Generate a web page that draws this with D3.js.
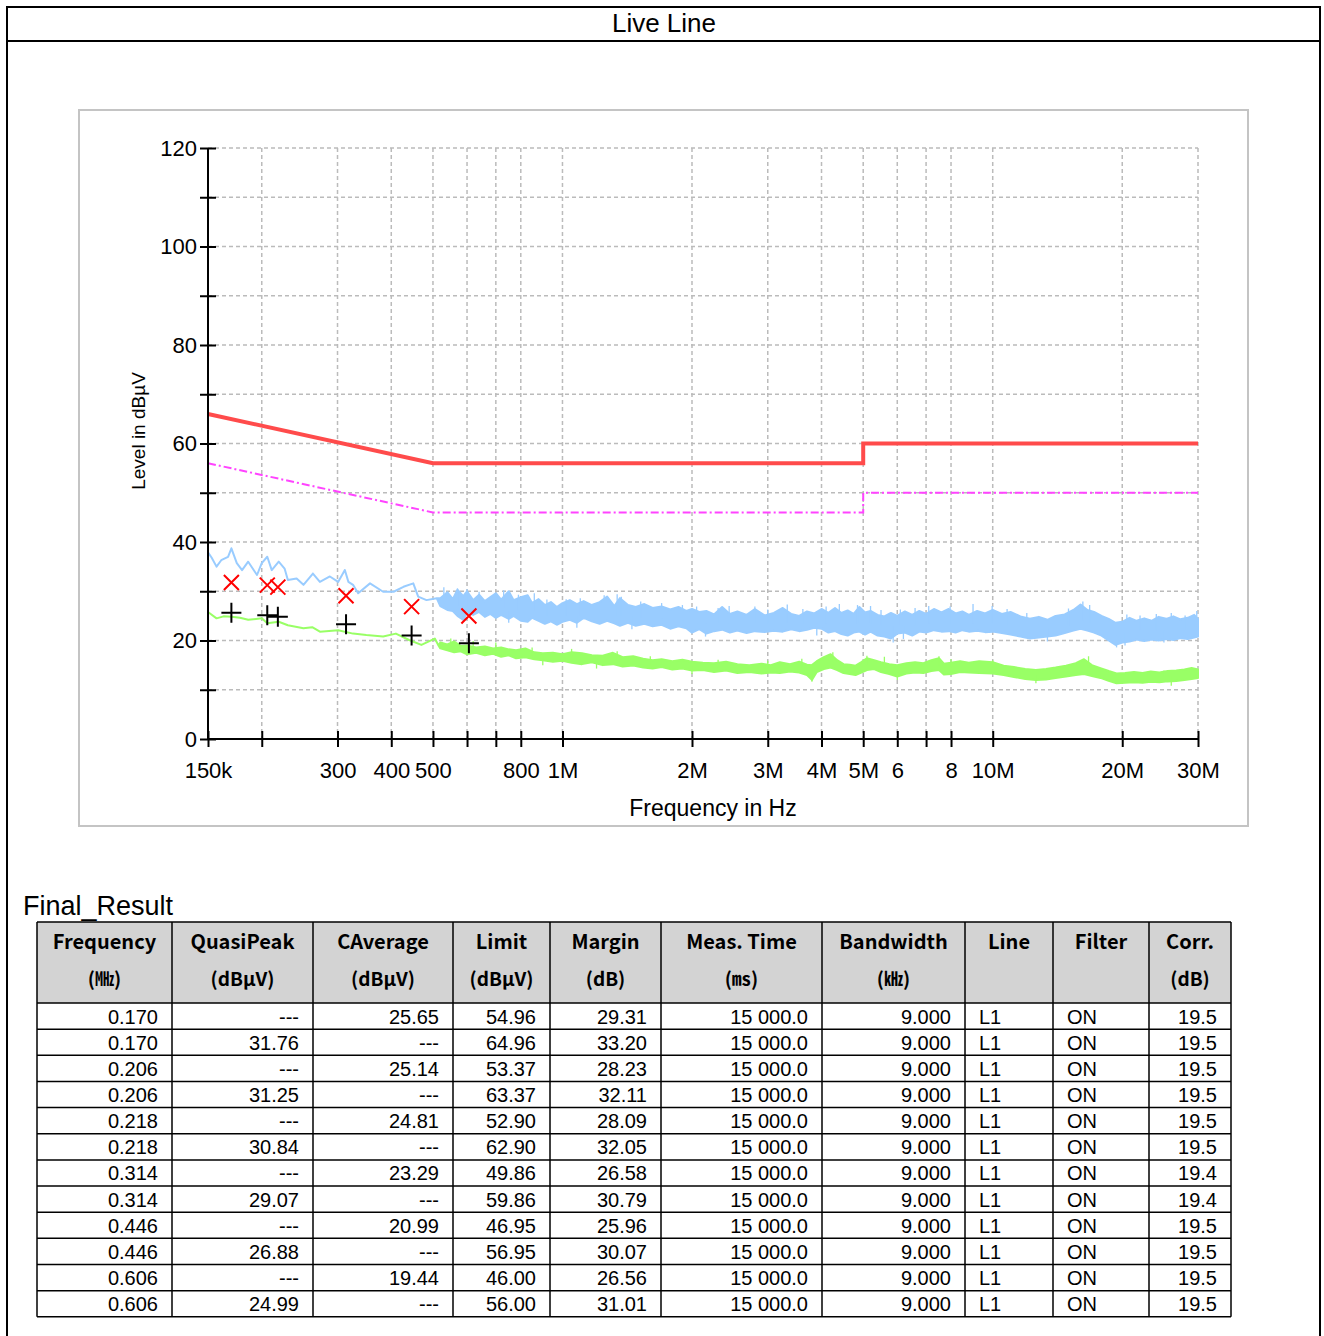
<!DOCTYPE html>
<meta charset="utf-8">
<script src="https://d3js.org/d3.v7.min.js"></script>
<html>
<style>
body { margin: 0; background: #fff; }
text { font-family: "Liberation Sans", Arial, sans-serif; fill: #000; }
.hdr { font-family: "Noto Sans CJK KR", sans-serif; font-weight: bold; }
</style>
<body>
<svg id="chart" width="1324" height="1336"></svg>
<script>

// ---- data ----
var xTickValues = [0.15, 0.2, 0.3, 0.4, 0.5, 0.6, 0.7, 0.8, 1, 2, 3, 4, 5, 6, 7, 8, 10, 20, 30];
var xTickLabels = ["150k", "", "300", "400", "500", "", "", "800", "1M", "2M", "3M", "4M", "5M", "6", "", "8", "10M", "20M", "30M"];
var yTickValues = [0, 10, 20, 30, 40, 50, 60, 70, 80, 90, 100, 110, 120];

// limit lines (MHz, dBuV)
var limitFreq = [0.15, 0.5, 5, 5, 30];
var qpLimit = [66, 56, 56, 60, 60];
var avLimit = [56, 46, 46, 50, 50];

// peak trace: thin part [f, level], noisy part [f, low, high]
var peakLine = [[0.150, 37.9], [0.153, 36.8], [0.157, 35.0], [0.161, 36.3], [0.167, 37.0], [0.170, 38.7],
  [0.175, 35.7], [0.180, 34.3], [0.186, 36.0], [0.195, 33.3], [0.200, 35.7], [0.206, 37.0], [0.211, 34.3],
  [0.219, 36.0], [0.226, 34.6], [0.230, 32.3], [0.241, 32.6], [0.250, 31.3], [0.263, 33.6], [0.273, 31.9],
  [0.288, 33.0], [0.301, 31.9], [0.312, 34.3], [0.318, 31.9], [0.326, 31.3], [0.335, 29.6], [0.357, 31.6],
  [0.383, 29.9], [0.405, 29.9], [0.427, 30.9], [0.450, 31.6], [0.462, 28.9], [0.483, 28.2], [0.510, 28.6]];
var peakBand = [[0.52, 27.0, 28.6], [0.54, 26.2, 29.8], [0.556, 26.0, 28.4], [0.57, 25.0, 30.3], [0.588, 24.2, 29.0],
  [0.60, 25.6, 30.0], [0.62, 25.2, 28.2], [0.64, 25.8, 29.3], [0.66, 24.8, 28.0], [0.68, 25.4, 28.8],
  [0.70, 24.6, 29.6], [0.72, 25.2, 28.3], [0.75, 24.4, 30.0], [0.77, 25.0, 28.2], [0.80, 24.0, 28.8],
  [0.83, 23.8, 29.2], [0.85, 24.6, 27.6], [0.88, 24.0, 28.4], [0.91, 23.4, 27.2], [0.94, 23.9, 27.8],
  [0.97, 23.2, 26.8], [1.00, 23.8, 27.6], [1.04, 24.2, 28.2], [1.08, 23.6, 27.4], [1.12, 24.6, 28.0],
  [1.17, 23.9, 27.2], [1.22, 23.4, 27.8], [1.27, 24.0, 28.9], [1.32, 23.5, 27.0], [1.36, 23.0, 28.6],
  [1.42, 23.6, 27.2], [1.48, 23.0, 26.8], [1.55, 23.4, 27.4], [1.62, 22.9, 26.6], [1.70, 23.2, 26.9],
  [1.78, 22.4, 26.3], [1.86, 22.9, 26.8], [1.94, 22.5, 26.0], [2.00, 21.6, 26.4], [2.08, 22.3, 25.8],
  [2.16, 21.4, 26.0], [2.25, 21.9, 25.3], [2.35, 22.2, 26.8], [2.45, 21.6, 25.4], [2.55, 22.0, 25.9],
  [2.68, 21.5, 25.2], [2.80, 21.9, 26.4], [2.95, 21.7, 25.1], [3.10, 22.0, 25.6], [3.25, 21.8, 26.6],
  [3.40, 22.3, 25.4], [3.55, 21.9, 25.0], [3.70, 22.2, 25.9], [3.85, 22.6, 25.5], [4.00, 22.4, 26.4],
  [4.15, 21.6, 25.6], [4.30, 21.9, 26.6], [4.45, 21.3, 25.6], [4.60, 21.0, 26.1], [4.75, 21.6, 25.4],
  [4.90, 21.8, 26.8], [5.05, 21.2, 25.7], [5.20, 21.8, 26.0], [5.40, 21.0, 25.2], [5.60, 20.8, 24.9],
  [5.80, 20.4, 25.6], [6.00, 21.4, 25.0], [6.25, 21.6, 25.9], [6.50, 21.0, 25.2], [6.75, 21.8, 26.0],
  [7.00, 21.6, 25.4], [7.30, 22.1, 26.4], [7.60, 21.8, 25.7], [7.90, 21.9, 26.4], [8.20, 21.6, 25.5],
  [8.50, 22.1, 25.9], [8.80, 21.8, 25.2], [9.20, 22.0, 26.0], [9.60, 21.7, 25.5], [10.0, 21.8, 26.2],
  [10.5, 21.5, 25.4], [11.0, 21.2, 25.8], [11.6, 20.8, 24.9], [12.2, 20.4, 24.4], [12.8, 20.6, 24.8],
  [13.4, 20.8, 24.2], [14.0, 21.0, 25.0], [14.7, 21.5, 25.3], [15.4, 22.0, 26.2], [16.0, 22.4, 27.3],
  [16.6, 22.0, 26.2], [17.2, 21.6, 25.8], [17.9, 21.0, 25.0], [18.6, 20.0, 24.4], [19.3, 19.1, 23.6],
  [20.0, 19.6, 23.8], [20.8, 19.8, 24.6], [21.6, 20.2, 24.0], [22.5, 19.9, 24.5], [23.4, 20.2, 24.0],
  [24.3, 20.0, 24.8], [25.3, 20.3, 24.4], [26.3, 20.1, 24.9], [27.3, 20.5, 24.3], [28.4, 20.3, 24.6],
  [29.4, 20.6, 25.2], [30.0, 20.8, 24.4]];
// visible single spikes [f, from, to]
var peakSpikes = [[0.53, 27.5, 30.8], [0.57, 27, 30.6], [0.60, 27, 30.4], [0.64, 26.5, 29.9], [0.73, 26.5, 30.2],
  [0.79, 26, 29.3], [0.86, 26, 29.6], [0.92, 25, 28.3], [1.02, 25, 28.4], [1.10, 25, 28.6], [1.25, 25, 29.2],
  [1.34, 25, 29.4], [1.37, 25, 28.9], [1.52, 24.5, 27.9], [1.70, 24.5, 27.6], [1.90, 24, 27.2], [2.05, 23.5, 26.9],
  [2.30, 23.5, 26.6], [2.44, 23.5, 27.0], [2.80, 23.5, 26.9], [3.0, 23.5, 26.3], [3.33, 23.5, 27.3],
  [3.62, 23.5, 26.4], [4.1, 23.5, 26.9], [4.4, 23.5, 27.4], [4.85, 23.5, 27.2], [5.2, 23.5, 27.0],
  [5.5, 23, 26.2], [6.1, 23, 26.3], [6.6, 23, 26.6], [7.1, 23.5, 27.0], [7.96, 23.5, 26.9], [9.0, 23.5, 27.4],
  [9.97, 23.5, 27.0], [10.8, 23, 26.4], [12.0, 22.5, 25.6], [15.0, 23, 26.5], [16.2, 24, 27.9], [16.8, 23.5, 27.2],
  [20.5, 21.5, 25.3], [22.0, 22, 25.1], [24.0, 22, 25.4], [26.0, 22, 25.6], [28.0, 22, 25.1], [29.8, 22, 26.0],
  [0.75, 26, 23.6], [1.08, 25, 22.6], [1.45, 25, 22.3], [2.15, 23.5, 20.8], [3.9, 23.5, 21.0], [5.87, 23, 19.6],
  [6.2, 23, 20.3], [13.4, 22.5, 19.8], [19.4, 21, 18.6], [20.3, 21.5, 19.0], [25.0, 22, 19.6]];

// average trace
var avgLine = [[0.150, 25.8], [0.157, 24.5], [0.163, 24.9], [0.170, 24.8], [0.178, 24.6], [0.186, 24.2],
  [0.200, 24.5], [0.206, 23.5], [0.219, 23.8], [0.230, 23.1], [0.250, 22.5], [0.262, 22.7], [0.273, 21.8],
  [0.301, 22.1], [0.326, 21.4], [0.350, 21.1], [0.383, 20.8], [0.410, 21.4], [0.440, 20.1], [0.470, 19.1],
  [0.505, 20.4], [0.515, 19.0]];
var avgBand = [[0.52, 18.4, 19.6], [0.54, 18.0, 19.2], [0.56, 17.6, 19.8], [0.58, 17.8, 18.9], [0.60, 17.2, 19.0],
  [0.63, 17.5, 18.6], [0.66, 17.0, 18.8], [0.69, 17.3, 18.4], [0.72, 16.7, 18.6], [0.75, 17.0, 18.2],
  [0.78, 16.4, 18.0], [0.82, 16.6, 18.4], [0.86, 16.2, 17.6], [0.90, 16.0, 17.4], [0.95, 15.7, 17.5],
  [1.00, 15.9, 17.2], [1.05, 15.5, 17.6], [1.11, 15.2, 17.4], [1.17, 15.6, 17.0], [1.24, 15.0, 16.9],
  [1.31, 15.2, 17.5], [1.38, 14.7, 16.6], [1.46, 14.9, 16.8], [1.54, 14.5, 16.3], [1.62, 14.3, 16.0],
  [1.70, 14.6, 16.2], [1.80, 14.1, 15.8], [1.90, 14.3, 16.1], [2.00, 13.9, 15.7], [2.12, 14.0, 15.5],
  [2.25, 13.6, 15.4], [2.40, 13.9, 15.7], [2.55, 13.4, 15.2], [2.72, 13.6, 15.0], [2.90, 13.3, 15.3],
  [3.05, 13.5, 15.0], [3.20, 13.4, 15.6], [3.38, 13.7, 15.2], [3.55, 13.5, 15.7], [3.70, 13.0, 15.1],
  [3.80, 12.0, 15.0], [3.90, 13.6, 15.8], [4.05, 14.2, 16.6], [4.20, 14.5, 17.2], [4.35, 14.0, 16.0],
  [4.50, 13.4, 15.2], [4.65, 13.2, 15.1], [4.80, 13.0, 14.9], [4.95, 13.5, 15.6], [5.10, 14.0, 16.4],
  [5.30, 14.2, 16.0], [5.50, 13.6, 15.6], [5.75, 13.2, 15.2], [6.00, 12.7, 15.0], [6.30, 13.3, 15.4],
  [6.60, 13.5, 15.6], [6.90, 13.4, 15.4], [7.20, 13.8, 16.0], [7.50, 14.0, 16.4], [7.70, 13.1, 15.3],
  [8.00, 13.2, 15.5], [8.40, 13.6, 15.8], [8.80, 13.5, 15.5], [9.30, 13.4, 15.8], [10.0, 13.3, 15.6],
  [10.6, 13.0, 14.9], [11.2, 12.6, 14.6], [11.9, 12.2, 14.2], [12.6, 12.0, 14.0], [13.3, 12.1, 14.2],
  [14.0, 12.4, 14.5], [14.8, 12.7, 14.9], [15.6, 13.0, 15.4], [16.3, 13.2, 16.2], [17.0, 12.8, 15.0],
  [17.8, 12.4, 14.4], [18.6, 11.8, 13.8], [19.4, 11.3, 13.3], [20.3, 11.4, 13.4], [21.3, 11.5, 13.6],
  [22.3, 11.4, 13.4], [23.3, 11.6, 13.7], [24.4, 11.5, 13.5], [25.5, 11.7, 13.8], [26.7, 11.8, 13.9],
  [27.9, 12.0, 14.1], [29.0, 12.2, 14.4], [30.0, 12.4, 14.1]];
var avgSpikes = [[0.55, 18.8, 20.4], [0.62, 18, 19.9], [0.70, 17.8, 19.6], [0.85, 17, 18.6], [1.05, 16.5, 18.3],
  [1.34, 16, 17.8], [1.6, 15.2, 16.8], [2.3, 14.5, 16.1], [3.0, 14.2, 15.9], [3.6, 14.5, 16.3], [4.25, 15.5, 17.6],
  [5.1, 15, 16.9], [5.6, 14.5, 16.7], [7.5, 15, 16.8], [8.0, 14.5, 16.2], [10.0, 14.5, 16.0], [16.7, 14.5, 16.8],
  [25, 12.6, 13.9], [0.9, 16.7, 15.0], [1.2, 16.2, 14.3], [2.0, 14.8, 13.2], [3.8, 14, 11.6], [6.0, 14, 12.0],
  [12.6, 13, 11.3], [26.0, 12.8, 10.8]];

// Final_Result table
var resFreq = ["0.170", "0.170", "0.206", "0.206", "0.218", "0.218", "0.314", "0.314", "0.446", "0.446", "0.606", "0.606"];
var resQP = ["---", "31.76", "---", "31.25", "---", "30.84", "---", "29.07", "---", "26.88", "---", "24.99"];
var resCAv = ["25.65", "---", "25.14", "---", "24.81", "---", "23.29", "---", "20.99", "---", "19.44", "---"];
var resLimit = ["54.96", "64.96", "53.37", "63.37", "52.90", "62.90", "49.86", "59.86", "46.95", "56.95", "46.00", "56.00"];
var resMargin = ["29.31", "33.20", "28.23", "32.11", "28.09", "32.05", "26.58", "30.79", "25.96", "30.07", "26.56", "31.01"];
var resTime = "15 000.0";
var resBw = "9.000";
var resLine = "L1";
var resFilter = "ON";
var resCorr = ["19.5", "19.5", "19.5", "19.5", "19.5", "19.5", "19.4", "19.4", "19.5", "19.5", "19.5", "19.5"];
var headNames = ["Frequency", "QuasiPeak", "CAverage", "Limit", "Margin", "Meas. Time", "Bandwidth", "Line", "Filter", "Corr."];
var headUnits = ["(\u3392)", "(dB\u03bcV)", "(dB\u03bcV)", "(dB\u03bcV)", "(dB)", "(\u33b3)", "(\u3391)", "", "", "(dB)"];

// ---- drawing ----
var svg = d3.select("#chart");

// outer frame + title row
svg.append("rect").attr("x", 7).attr("y", 7).attr("width", 1313).attr("height", 1340)
  .attr("fill", "none").attr("stroke", "#000").attr("stroke-width", 2);
svg.append("line").attr("x1", 7).attr("x2", 1320).attr("y1", 41).attr("y2", 41)
  .attr("stroke", "#000").attr("stroke-width", 2);
svg.append("text").attr("x", 664).attr("y", 32).attr("text-anchor", "middle")
  .style("font-size", "26px").text("Live Line");

// chart panel
svg.append("rect").attr("x", 79).attr("y", 110).attr("width", 1169).attr("height", 716)
  .attr("fill", "#fff").attr("stroke", "#c4c4c4").attr("stroke-width", 2);

var x = d3.scaleLog().domain([0.15, 30]).range([208, 1198]);
var y = d3.scaleLinear().domain([0, 120]).range([739, 148]);

// grid
var grid = svg.append("g");
grid.selectAll(".gx").data(xTickValues.slice(1)).enter().append("line")
  .attr("x1", d => x(d)).attr("x2", d => x(d)).attr("y1", y(120)).attr("y2", y(0))
  .attr("stroke", "#bbb").attr("stroke-width", 1.5).attr("stroke-dasharray", "4,3");
grid.selectAll(".gy").data(yTickValues.slice(1)).enter().append("line")
  .attr("x1", x(0.15)).attr("x2", x(30)).attr("y1", d => y(d)).attr("y2", d => y(d))
  .attr("stroke", "#bbb").attr("stroke-width", 1.5).attr("stroke-dasharray", "4,3");

// traces
var band = d3.area().x(d => x(d[0])).y0(d => y(d[1])).y1(d => y(d[2]));
function trace(line, bnd) {
  return line.map(d => [d[0], d[1], d[1]]).concat(bnd);
}
function drawTrace(line, bnd, spikes, col) {
  svg.append("path").datum(trace(line, bnd)).attr("d", band)
    .attr("fill", col).attr("stroke", col).attr("stroke-width", 2).attr("stroke-linejoin", "round");
  svg.append("g").selectAll("line").data(spikes).enter().append("line")
    .attr("x1", d => x(d[0])).attr("x2", d => x(d[0])).attr("y1", d => y(d[1])).attr("y2", d => y(d[2]))
    .attr("stroke", col).attr("stroke-width", 1.3);
}
drawTrace(peakLine, peakBand, peakSpikes, "#99ccff");
drawTrace(avgLine, avgBand, avgSpikes, "#99ff66");

// limits
var limLine = d3.line().x(d => x(d[0])).y(d => y(d[1]));
svg.append("path").datum(limitFreq.map((f, i) => [f, avLimit[i]])).attr("d", limLine)
  .attr("fill", "none").attr("stroke", "#ff44ff").attr("stroke-width", 2).attr("stroke-dasharray", "8,3,2,3");
svg.append("path").datum(limitFreq.map((f, i) => [f, qpLimit[i]])).attr("d", limLine)
  .attr("fill", "none").attr("stroke", "#ff4b4b").attr("stroke-width", 4);

// markers
var qpPts = [], avPts = [];
resFreq.forEach(function (f, i) {
  if (resQP[i] != "---") qpPts.push([+f, +resQP[i]]);
  if (resCAv[i] != "---") avPts.push([+f, +resCAv[i]]);
});
svg.selectAll(".qp").data(qpPts).enter().append("path")
  .attr("d", function (d) {
    var cx = x(d[0]), cy = y(d[1]), r = 7.5;
    return "M" + (cx - r) + "," + (cy - r) + "L" + (cx + r) + "," + (cy + r) +
      "M" + (cx - r) + "," + (cy + r) + "L" + (cx + r) + "," + (cy - r);
  })
  .attr("stroke", "#ff0000").attr("stroke-width", 2).attr("fill", "none");
svg.selectAll(".av").data(avPts).enter().append("path")
  .attr("d", function (d) {
    var cx = x(d[0]), cy = y(d[1]), r = 10;
    return "M" + (cx - r) + "," + cy + "L" + (cx + r) + "," + cy +
      "M" + cx + "," + (cy - r) + "L" + cx + "," + (cy + r);
  })
  .attr("stroke", "#000").attr("stroke-width", 2).attr("fill", "none");

// axes
var xAxis = d3.axisBottom(x).tickValues(xTickValues)
  .tickFormat((d, i) => xTickLabels[i]).tickSize(8).tickPadding(15);
var gx = svg.append("g").attr("transform", "translate(0," + y(0) + ")").call(xAxis);
gx.select(".domain").attr("d", "M" + x(0.15) + ",0H" + x(30)).attr("stroke-width", 2);
gx.selectAll(".tick line").attr("y1", -8).attr("y2", 8).attr("stroke-width", 2);
gx.selectAll(".tick text").style("font-size", "22px").style("font-family", "'Liberation Sans', Arial, sans-serif");

var yAxis = d3.axisLeft(y).tickValues(yTickValues)
  .tickFormat(d => d % 20 == 0 ? d : "").tickSize(8).tickPadding(3);
var gy = svg.append("g").attr("transform", "translate(" + x(0.15) + ",0)").call(yAxis);
gy.select(".domain").attr("d", "M0," + y(0) + "V" + y(120)).attr("stroke-width", 2);
gy.selectAll(".tick line").attr("x1", -8).attr("x2", 8).attr("stroke-width", 2);
gy.selectAll(".tick text").style("font-size", "22px").style("font-family", "'Liberation Sans', Arial, sans-serif");

svg.append("text").attr("x", 713).attr("y", 816).attr("text-anchor", "middle")
  .style("font-size", "23px").text("Frequency in Hz");
svg.append("text").attr("transform", "translate(145,431) rotate(-90)").attr("text-anchor", "middle")
  .style("font-size", "19px").text("Level in dB\u00b5V");

// table
svg.append("text").attr("x", 23).attr("y", 915).style("font-size", "27px").text("Final_Result");

var colX = [37, 172, 313, 453, 550, 661, 822, 965, 1053, 1149, 1231];
var tTop = 922, hBot = 1003, rowH = 26.15;
var nRows = resFreq.length;
var tBot = hBot + rowH * nRows;

svg.append("rect").attr("x", colX[0]).attr("y", tTop).attr("width", colX[10] - colX[0]).attr("height", hBot - tTop)
  .attr("fill", "#d3d3d3");
var tb = svg.append("g").attr("stroke", "#000").attr("stroke-width", 1.5);
colX.forEach(function (cx) {
  tb.append("line").attr("x1", cx).attr("x2", cx).attr("y1", tTop).attr("y2", tBot);
});
d3.range(nRows + 1).forEach(function (i) {
  var yy = hBot + i * rowH;
  tb.append("line").attr("x1", colX[0]).attr("x2", colX[10]).attr("y1", yy).attr("y2", yy);
});
tb.append("line").attr("x1", colX[0]).attr("x2", colX[10]).attr("y1", tTop).attr("y2", tTop);

headNames.forEach(function (h, i) {
  var cx = (colX[i] + colX[i + 1]) / 2;
  svg.append("text").attr("class", "hdr").attr("x", cx).attr("y", 949).attr("text-anchor", "middle")
    .style("font-size", "20px").text(h);
  svg.append("text").attr("class", "hdr").attr("x", cx).attr("y", 986).attr("text-anchor", "middle")
    .style("font-size", "19px").text(headUnits[i]);
});

resFreq.forEach(function (f, i) {
  var cells = [f, resQP[i], resCAv[i], resLimit[i], resMargin[i], resTime, resBw, resLine, resFilter, resCorr[i]];
  var ty = hBot + i * rowH + rowH / 2 + 7.5;
  cells.forEach(function (c, j) {
    var left = (j == 7 || j == 8);
    svg.append("text").attr("x", left ? colX[j] + 14 : colX[j + 1] - 14).attr("y", ty)
      .attr("text-anchor", left ? "start" : "end").style("font-size", "20px").text(c);
  });
});

</script>
</body>
</html>
